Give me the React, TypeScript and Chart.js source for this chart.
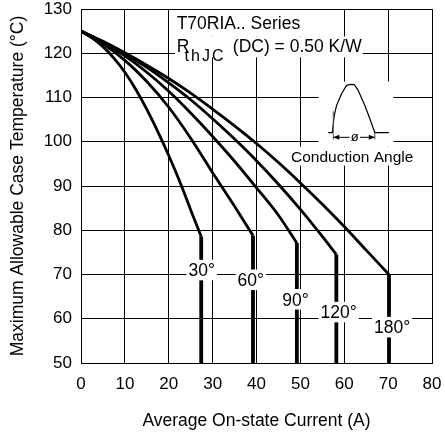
import { useEffect, useRef } from 'react';
import { Chart, registerables } from 'chart.js';

Chart.register(...registerables);

const FONT_FAMILY = '"Liberation Sans", Arial, Helvetica, sans-serif';

// Axis ticks
const currentTicks = [0, 10, 20, 30, 40, 50, 60, 70, 80];
const tempTicks = [50, 60, 70, 80, 90, 100, 110, 120, 130];

// Conduction angles
const angleLabels = ['30°', '60°', '90°', '120°', '180°'];

// Average on-state current (A) and maximum allowable case temperature (°C)
const current30 = [0, 2.5, 5, 7.5, 10, 12.5, 15, 17.5, 20, 22.5, 25, 27.4];
const temp30 = [125, 123.5, 121.5, 118.9, 115.7, 111.8, 107.3, 102.3, 96.9, 91.0, 84.6, 78.6];

const current60 = [0, 5, 10, 15, 20, 25, 30, 35, 39.2];
const temp60 = [125, 122.1, 118.4, 113.6, 107.8, 100.8, 93.0, 85.4, 78.8];

const current90 = [0, 5, 10, 15, 20, 25, 30, 35, 40, 45, 49.2];
const temp90 = [125, 122.5, 119.4, 115.7, 111.4, 106.5, 101.2, 95.6, 89.6, 83.4, 77.1];

const current120 = [0, 5, 10, 15, 20, 25, 30, 35, 40, 45, 50, 55, 58.2];
const temp120 = [125, 122.6, 119.9, 116.8, 113.3, 109.5, 105.2, 100.6, 95.7, 90.4, 84.7, 78.6, 74.5];

const current180 = [0, 5, 10, 15, 20, 25, 30, 35, 40, 45, 50, 55, 60, 65, 70.2];
const temp180 = [125, 122.7, 120.1, 117.3, 114.3, 111.0, 107.4, 103.6, 99.6, 95.3, 90.7, 85.9, 80.85, 75.5, 70];

const currents = [current30, current60, current90, current120, current180];
const temps = [temp30, temp60, temp90, temp120, temp180];

// Angle label anchors (text centre, in axis units)
const labelCurrent = [27.5, 38.7, 48.9, 58.7, 70.9];
const labelTemp = [71.0, 68.8, 64.4, 61.5, 58.1];

// Half-sine conduction pulse glyph, normalised to its own box (u across, v up)
const pulseU = [0, 0.047, 0.101, 0.218, 0.336, 0.437, 0.516, 0.61, 0.765, 0.883, 1];
const pulseV = [0, 0.358, 0.565, 0.807, 0.979, 1, 0.994, 0.876, 0.565, 0.29, 0];

const overlayPlugin = {
  id: 'overlay',
  afterDatasetsDraw(chart: any) {
    const { ctx } = chart;
    const xs = chart.scales.x;
    const ys = chart.scales.y;
    const X = (v: number) => xs.getPixelForValue(v);
    const Y = (v: number) => ys.getPixelForValue(v);
    const blank = (x0: number, y0: number, x1: number, y1: number) => {
      ctx.fillStyle = '#ffffff';
      ctx.fillRect(X(x0), Y(y0), X(x1) - X(x0), Y(y1) - Y(y0));
    };

    ctx.save();
    ctx.fillStyle = '#000';
    ctx.textBaseline = 'alphabetic';
    ctx.textAlign = 'left';

    // Series / thermal resistance note
    blank(21.4, 129.75, 51.1, 123.8);
    blank(21.4, 123.8, 64.2, 119.07);
    ctx.fillStyle = '#000';
    ctx.font = `17.5px ${FONT_FAMILY}`;
    ctx.fillText('T70RIA.. Series', X(21.8), Y(125.4));
    ctx.fillText('R', X(21.8), Y(120.2));
    ctx.fillText('(DC) = 0.50 K/W', X(34.6), Y(120.3));
    ctx.font = `16px ${FONT_FAMILY}`;
    (ctx as any).letterSpacing = '2px';
    ctx.fillText('thJC', X(23.6), Y(118.3));
    (ctx as any).letterSpacing = '0px';

    // Conduction angle inset
    blank(54.15, 113.6, 71.2, 98.9);
    blank(47.5, 98.9, 76, 94.6);
    const baseY = Y(102.04);
    const peakY = Y(112.96);
    const p0 = X(57.27);
    const p1 = X(66.97);
    ctx.strokeStyle = '#000';
    ctx.lineWidth = 1.2;
    ctx.lineJoin = 'round';
    ctx.beginPath();
    ctx.moveTo(X(56.35), baseY);
    ctx.lineTo(p0, baseY);
    pulseU.forEach((u, i) => ctx.lineTo(p0 + u * (p1 - p0), baseY + pulseV[i] * (peakY - baseY)));
    ctx.lineTo(X(70.16), baseY);
    ctx.stroke();

    // boundary markers and arrows
    const arrowY = Y(101.0);
    const aL = X(57.5);
    const aR = p1;
    ctx.strokeStyle = '#555';
    ctx.lineWidth = 1;
    ctx.beginPath();
    ctx.moveTo(aL, Y(106.9));
    ctx.lineTo(aL, Y(100.5));
    ctx.moveTo(aR, baseY);
    ctx.lineTo(aR, Y(100.5));
    ctx.stroke();
    ctx.strokeStyle = '#000';
    ctx.beginPath();
    ctx.moveTo(aL, arrowY);
    ctx.lineTo(X(61.2), arrowY);
    ctx.moveTo(X(63.6), arrowY);
    ctx.lineTo(aR, arrowY);
    ctx.stroke();
    ctx.fillStyle = '#000';
    ctx.beginPath();
    ctx.moveTo(aL, arrowY);
    ctx.lineTo(aL + 6, arrowY - 2.5);
    ctx.lineTo(aL + 6, arrowY + 2.5);
    ctx.closePath();
    ctx.moveTo(aR, arrowY);
    ctx.lineTo(aR - 6, arrowY - 2.5);
    ctx.lineTo(aR - 6, arrowY + 2.5);
    ctx.closePath();
    ctx.fill();
    ctx.font = `13px ${FONT_FAMILY}`;
    ctx.textAlign = 'center';
    ctx.fillText('ø', X(62.4), arrowY + 4);
    ctx.font = `15.5px ${FONT_FAMILY}`;
    ctx.fillText('Conduction Angle', X(61.8), Y(95.5));

    // Angle labels on white patches
    ctx.font = `17.5px ${FONT_FAMILY}`;
    const cap = 17.5 * 0.716;
    angleLabels.forEach((text, i) => {
      const cx = X(labelCurrent[i]);
      const cy = Y(labelTemp[i]);
      const w = ctx.measureText(text).width;
      ctx.fillStyle = '#fff';
      ctx.fillRect(cx - w / 2 - 2, cy - cap / 2 - 4, w + 4, cap + 8);
      ctx.fillStyle = '#000';
      ctx.fillText(text, cx, cy + cap / 2);
    });
    ctx.restore();
  },
};

export default function App() {
  const canvasRef = useRef<HTMLCanvasElement | null>(null);

  useEffect(() => {
    const canvas = canvasRef.current;
    if (!canvas) return;

    const datasets: any[] = [];
    currents.forEach((cur, i) => {
      const t = temps[i];
      datasets.push({
        label: angleLabels[i],
        data: cur.map((c, j) => ({ x: c, y: t[j] })),
        borderColor: '#000',
        borderWidth: 2.8,
        pointRadius: 0,
        tension: 0.3,
        fill: false,
      });
      const last = cur.length - 1;
      datasets.push({
        label: angleLabels[i] + ' limit',
        data: [
          { x: cur[last], y: t[last] },
          { x: cur[last], y: tempTicks[0] },
        ],
        borderColor: '#000',
        borderWidth: 3.8,
        pointRadius: 0,
        tension: 0,
        fill: false,
      });
    });

    const chart = new Chart(canvas, {
      type: 'line',
      data: { datasets },
      plugins: [overlayPlugin],
      options: {
        animation: false,
        responsive: false,
        layout: { padding: { top: 9, right: 13, left: 0, bottom: 0 } },
        plugins: { legend: { display: false }, tooltip: { enabled: false } },
        scales: {
          x: {
            type: 'linear',
            min: currentTicks[0],
            max: currentTicks[currentTicks.length - 1],
            afterFit: (s: any) => {
              s.height = 71;
              s.paddingLeft = 0;
              s.paddingRight = 0;
            },
            afterBuildTicks: (s: any) => { s.ticks = currentTicks.map((v) => ({ value: v })); },
            grid: { color: '#000', lineWidth: 1, drawTicks: false },
            border: { color: '#000', width: 1 },
            ticks: { color: '#000', padding: 11, font: { family: FONT_FAMILY, size: 17 }, maxRotation: 0 },
            title: {
              display: true,
              text: 'Average On-state Current (A)',
              color: '#000',
              font: { family: FONT_FAMILY, size: 17.5 },
              padding: { top: 0, bottom: 2 },
            },
          },
          y: {
            type: 'linear',
            min: tempTicks[0],
            max: tempTicks[tempTicks.length - 1],
            afterFit: (s: any) => {
              s.width = 81;
              s.paddingTop = 0;
              s.paddingBottom = 0;
            },
            afterBuildTicks: (s: any) => { s.ticks = tempTicks.map((v) => ({ value: v })); },
            grid: { color: '#000', lineWidth: 1, drawTicks: false },
            border: { color: '#000', width: 1 },
            ticks: { color: '#000', padding: 9, font: { family: FONT_FAMILY, size: 17 } },
            title: {
              display: true,
              text: 'Maximum Allowable Case Temperature (°C)',
              color: '#000',
              font: { family: FONT_FAMILY, size: 17.5 },
              padding: { top: 8, bottom: 0 },
            },
          },
        },
      },
    });
    return () => chart.destroy();
  }, []);

  return (
    <div style={{ position: 'absolute', left: 0, top: 0, width: 445, height: 434, background: '#fff' }}>
      <canvas ref={canvasRef} width={445} height={434} />
    </div>
  );
}
